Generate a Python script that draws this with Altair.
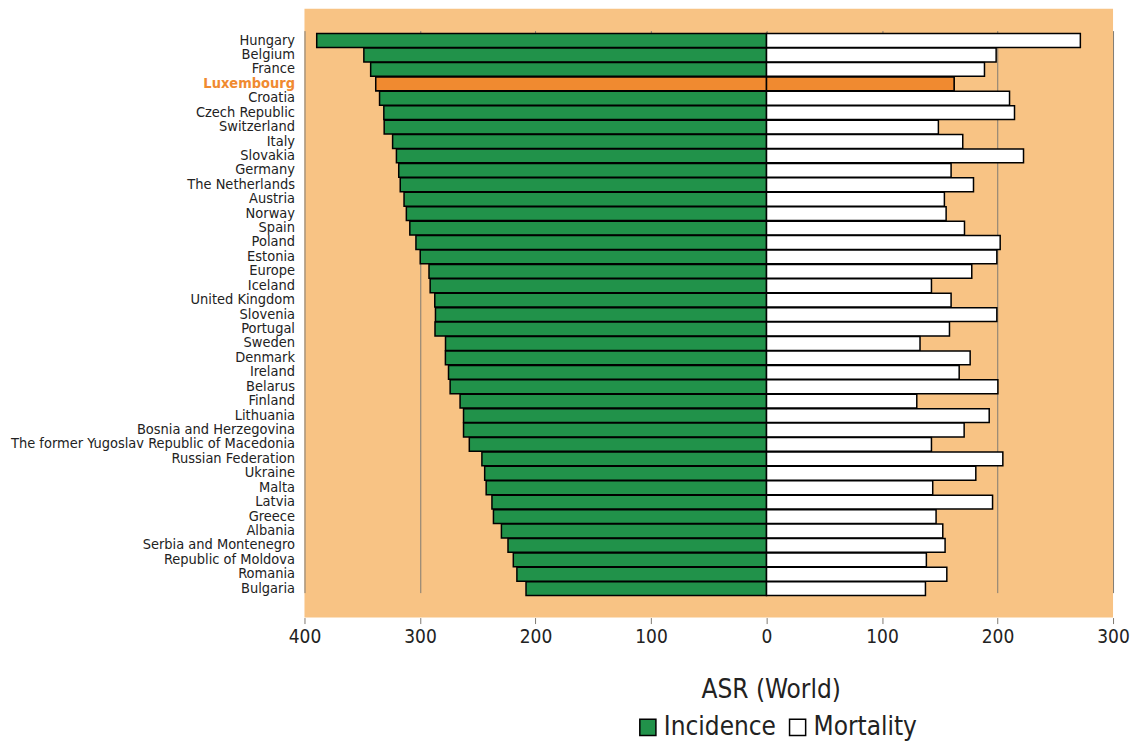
import altair as alt
import pandas as pd

countries = ["Hungary", "Belgium", "France", "Luxembourg", "Croatia", "Czech Republic",
             "Switzerland", "Italy", "Slovakia", "Germany", "The Netherlands", "Austria",
             "Norway", "Spain", "Poland", "Estonia", "Europe", "Iceland", "United Kingdom",
             "Slovenia", "Portugal", "Sweden", "Denmark", "Ireland", "Belarus", "Finland",
             "Lithuania", "Bosnia and Herzegovina", "The former Yugoslav Republic of Macedonia",
             "Russian Federation", "Ukraine", "Malta", "Latvia", "Greece", "Albania",
             "Serbia and Montenegro", "Republic of Moldova", "Romania", "Bulgaria"]

incidence = [389.4, 348.6, 342.7, 338.3, 335.0, 331.3, 331.0, 323.7, 320.4, 318.4, 317.1,
             313.8, 311.8, 308.8, 303.5, 299.8, 292.2, 291.2, 287.2, 286.6, 287.0, 277.9,
             278.0, 275.3, 273.9, 265.3, 262.3, 262.3, 257.3, 246.4, 244.0, 242.7, 237.7,
             236.4, 229.5, 223.8, 219.2, 216.1, 208.2]
mortality = [271.7, 198.8, 188.7, 162.4, 210.4, 214.7, 148.8, 169.9, 222.5, 159.8, 179.2,
             154.0, 155.5, 171.4, 202.3, 199.4, 177.7, 142.8, 159.8, 199.4, 158.4, 132.9,
             176.3, 166.8, 200.3, 130.1, 192.8, 171.1, 142.8, 204.6, 181.2, 143.9, 195.7,
             146.8, 152.6, 154.6, 138.4, 156.1, 137.6]

rows = []
for c, i, m in zip(countries, incidence, mortality):
    rows.append({"country": c, "measure": "Incidence", "value": -i})
    rows.append({"country": c, "measure": "Mortality", "value": m})
df = pd.DataFrame(rows)

FONT = "DejaVu Sans Condensed, Liberation Sans Narrow, DejaVu Sans, sans-serif"
BG = "#F8C384"
GREEN = "#21924A"
LUX = "#F08A30"
GRID = "#7f7a72"

y = alt.Y(
    "country:N", sort=countries, title=None,
    scale=alt.Scale(range=[25, 588], paddingInner=0.04, paddingOuter=0),
    axis=alt.Axis(
        domain=False, ticks=False, labelPadding=10, labelFontSize=14.5, labelFont=FONT,
        labelLimit=400,
        labelColor={"condition": {"test": "datum.value == 'Luxembourg'", "value": LUX}, "value": "#222222"},
        labelFontWeight={"condition": {"test": "datum.value == 'Luxembourg'", "value": "bold"}, "value": "normal"},
    ),
)

x = alt.X(
    "value:Q",
    scale=alt.Scale(domain=[-400, 300], nice=False, zero=False),
    axis=alt.Axis(
        values=[-400, -300, -200, -100, 0, 100, 200, 300],
        labelExpr="abs(datum.value)", labelFlush=False, labelOverlap=False,
        grid=True, gridColor=GRID, gridWidth=1, tickColor=GRID, tickSize=6,
        domain=False, labelFontSize=19, labelFont=FONT, labelColor="#222222", labelPadding=4,
        title="ASR (World)", titleFontSize=26, titleFont=FONT, titleFontWeight="normal",
        titleColor="#222222", titleX=467, titleY=72, titleBaseline="middle", titleAlign="center",
    ),
)

color = alt.Color(
    "measure:N",
    scale=alt.Scale(domain=["Incidence", "Mortality"], range=[GREEN, "white"]),
    legend=alt.Legend(
        title=None, orient="none", legendX=331, legendY=707, direction="horizontal",
        symbolType="square", symbolSize=260, symbolStrokeColor="black", symbolStrokeWidth=1.5,
        symbolOpacity=1, labelFontSize=26, labelFont=FONT, labelColor="#222222",
        columnPadding=8, labelOffset=3,
    ),
)

bars = alt.Chart(df).mark_bar(stroke="black", strokeWidth=1.5, opacity=1).encode(
    x=x, y=y, color=color
)

lux = alt.Chart(df).transform_filter("datum.country == 'Luxembourg'").mark_bar(
    fill=LUX, stroke="black", strokeWidth=1.5, opacity=1
).encode(x=alt.X("value:Q"), y=alt.Y("country:N", sort=countries))

chart = alt.layer(bars, lux).properties(
    width=810, height=610,
    autosize=alt.AutoSizeParams(type="none"),
    padding={"left": 297, "top": 0, "right": 20, "bottom": 126},
).configure_view(fill=BG, stroke=None)

chart.save("out.html", embed_options={"renderer": "svg", "actions": False})
